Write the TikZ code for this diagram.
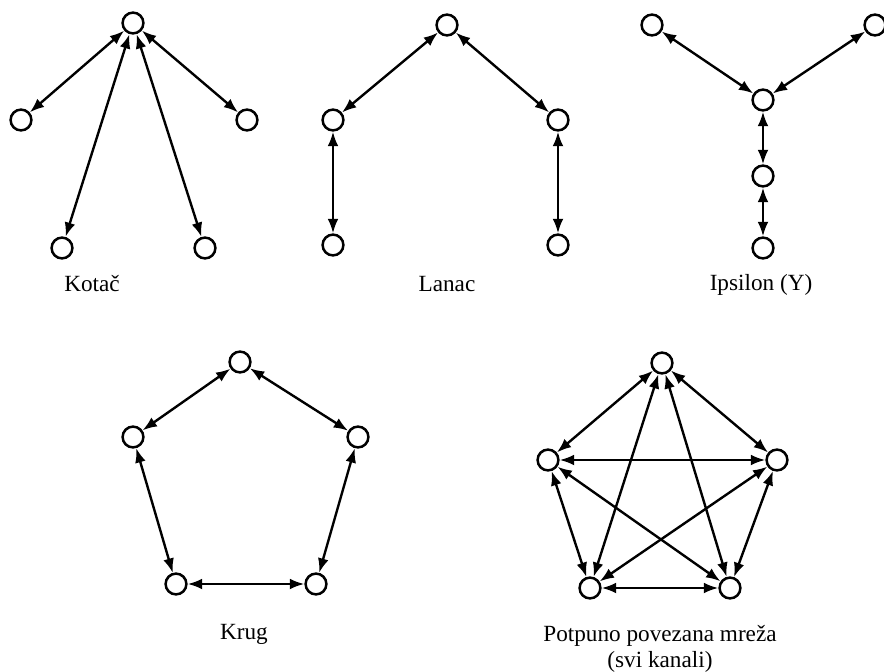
\documentclass[tikz,border=0pt]{standalone}
\usepackage{fontspec}
\setmainfont{Liberation Serif}
\usetikzlibrary{arrows.meta}
\begin{document}
\begin{tikzpicture}
[x=0.025cm,y=-0.025cm,
  lineDecorate/.style={{Latex[length=3.6mm,width=2.7mm]}-{Latex[length=3.6mm,width=2.7mm]},line width=1.7pt},%
  nodeDecorate/.style={shape=circle,inner sep=0pt,minimum size=0.52cm,draw,line width=1.8pt},
  labelDecorate/.style={align=center,inner sep=0pt,font=\fontsize{16.5}{18.5}\selectfont}]
\useasboundingbox (0,0) rectangle (884,672);
%% nodes or vertices
\foreach \nodename/\x/\y in {
  k0/133/23, k1/21/120, k2/247/120, k3/62/248, k4/205/248,
  l0/447/25, l1/333/120, l2/558/120, l3/333/245, l4/558/245,
  y0/652/25, y1/875/25, y2/763/100, y3/763/176, y4/763/248,
  c0/240/362, c1/133/437, c2/358/437, c3/176/584, c4/316/584,
  p0/662/363, p1/548/460, p2/777/460, p3/590/588, p4/730/588}
{
  \node (\nodename) at (\x,\y) [nodeDecorate] {};
}
%% edges or lines
\path
\foreach \startnode/\endnode in {
  k0/k1, k0/k2, k0/k3, k0/k4,
  l0/l1, l0/l2, l1/l3, l2/l4,
  y0/y2, y1/y2, y2/y3, y3/y4,
  c0/c1, c0/c2, c1/c3, c2/c4, c3/c4,
  p0/p1, p0/p2, p0/p3, p0/p4, p1/p2, p1/p3, p1/p4, p2/p3, p2/p4, p3/p4}
{
  (\startnode) edge[lineDecorate] node {} (\endnode)
};
%% labels
\node (kotac) at (92,284) [labelDecorate] {Kotač};
\node (lanac) at (447,284) [labelDecorate] {Lanac};
\node (ipsilon) at (761,285) [labelDecorate] {Ipsilon (Y)};
\node (krug) at (244,634) [labelDecorate] {Krug};
\node (mreza) at (660,649) [labelDecorate] {Potpuno povezana mreža\\(svi kanali)};
\end{tikzpicture}
\end{document}
